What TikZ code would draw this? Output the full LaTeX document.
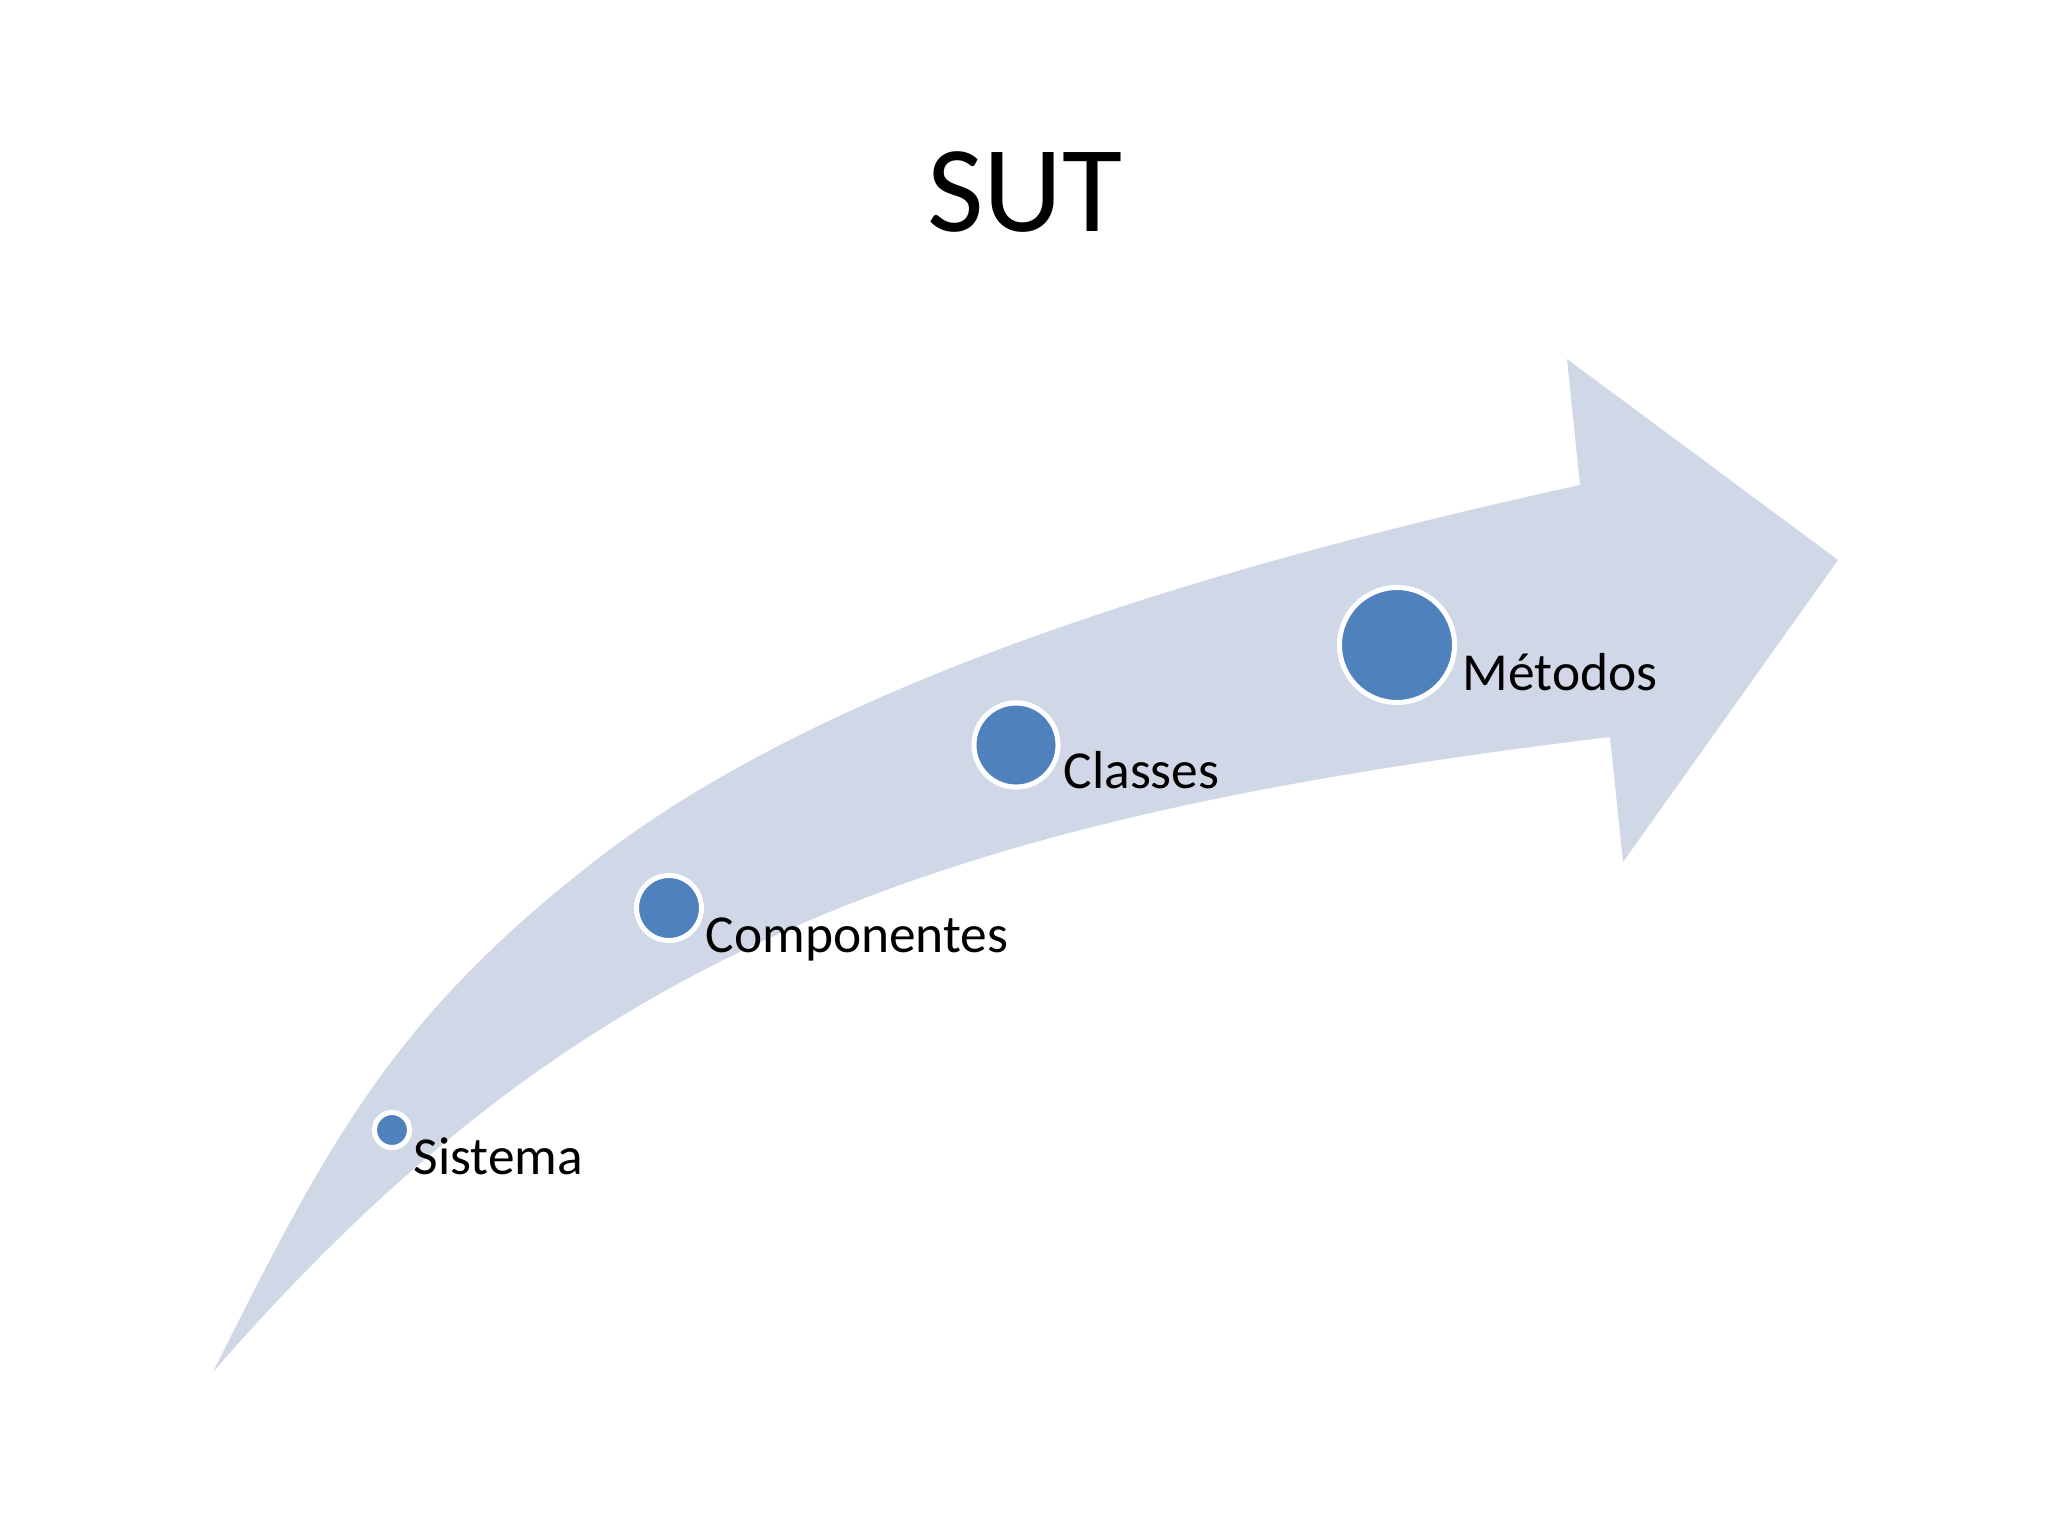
\documentclass[tikz,border=0pt]{standalone}
\usepackage{fontspec}
\setmainfont{Carlito}
\definecolor{band}{HTML}{D0D8E8}
\definecolor{dot}{HTML}{4F81BD}
\begin{document}
\begin{tikzpicture}[x=0.01cm,y=-0.01cm,
  dotnode/.style={circle,fill=dot,draw=white,line width=0.05cm,inner sep=0pt},
  lbl/.style={anchor=base west,inner sep=0pt,font=\fontsize{15.2pt}{18pt}\selectfont},
  ttl/.style={anchor=base,inner sep=0pt,font=\fontsize{35pt}{42pt}\selectfont}]
\useasboundingbox (0,0) rectangle (2048,1536);
\fill[white] (0,0) rectangle (2048,1536);
\fill[band] (213,1372) .. controls (329,1140) and (394,1016) .. (600,857)
  .. controls (838,674) and (1238,560) .. (1580,485)
  -- (1567,359) -- (1838,560) -- (1623,862) -- (1610,737)
  .. controls (915,821) and (574,957) .. (213,1372) -- cycle;
\node[ttl] (title) at (1025,231) {SUT};
\node[dotnode,minimum size=0.35cm] (sis) at (392,1130) {};
\node[lbl] (sisl) at (413,1174) {Sistema};
\node[dotnode,minimum size=0.65cm] (comp) at (669,908) {};
\node[lbl] (compl) at (705,952) {Componentes};
\node[dotnode,minimum size=0.84cm] (cla) at (1016,745) {};
\node[lbl] (clal) at (1063,788) {Classes};
\node[dotnode,minimum size=1.15cm] (met) at (1397,645) {};
\node[lbl] (metl) at (1462,690) {Métodos};
\end{tikzpicture}
\end{document}
